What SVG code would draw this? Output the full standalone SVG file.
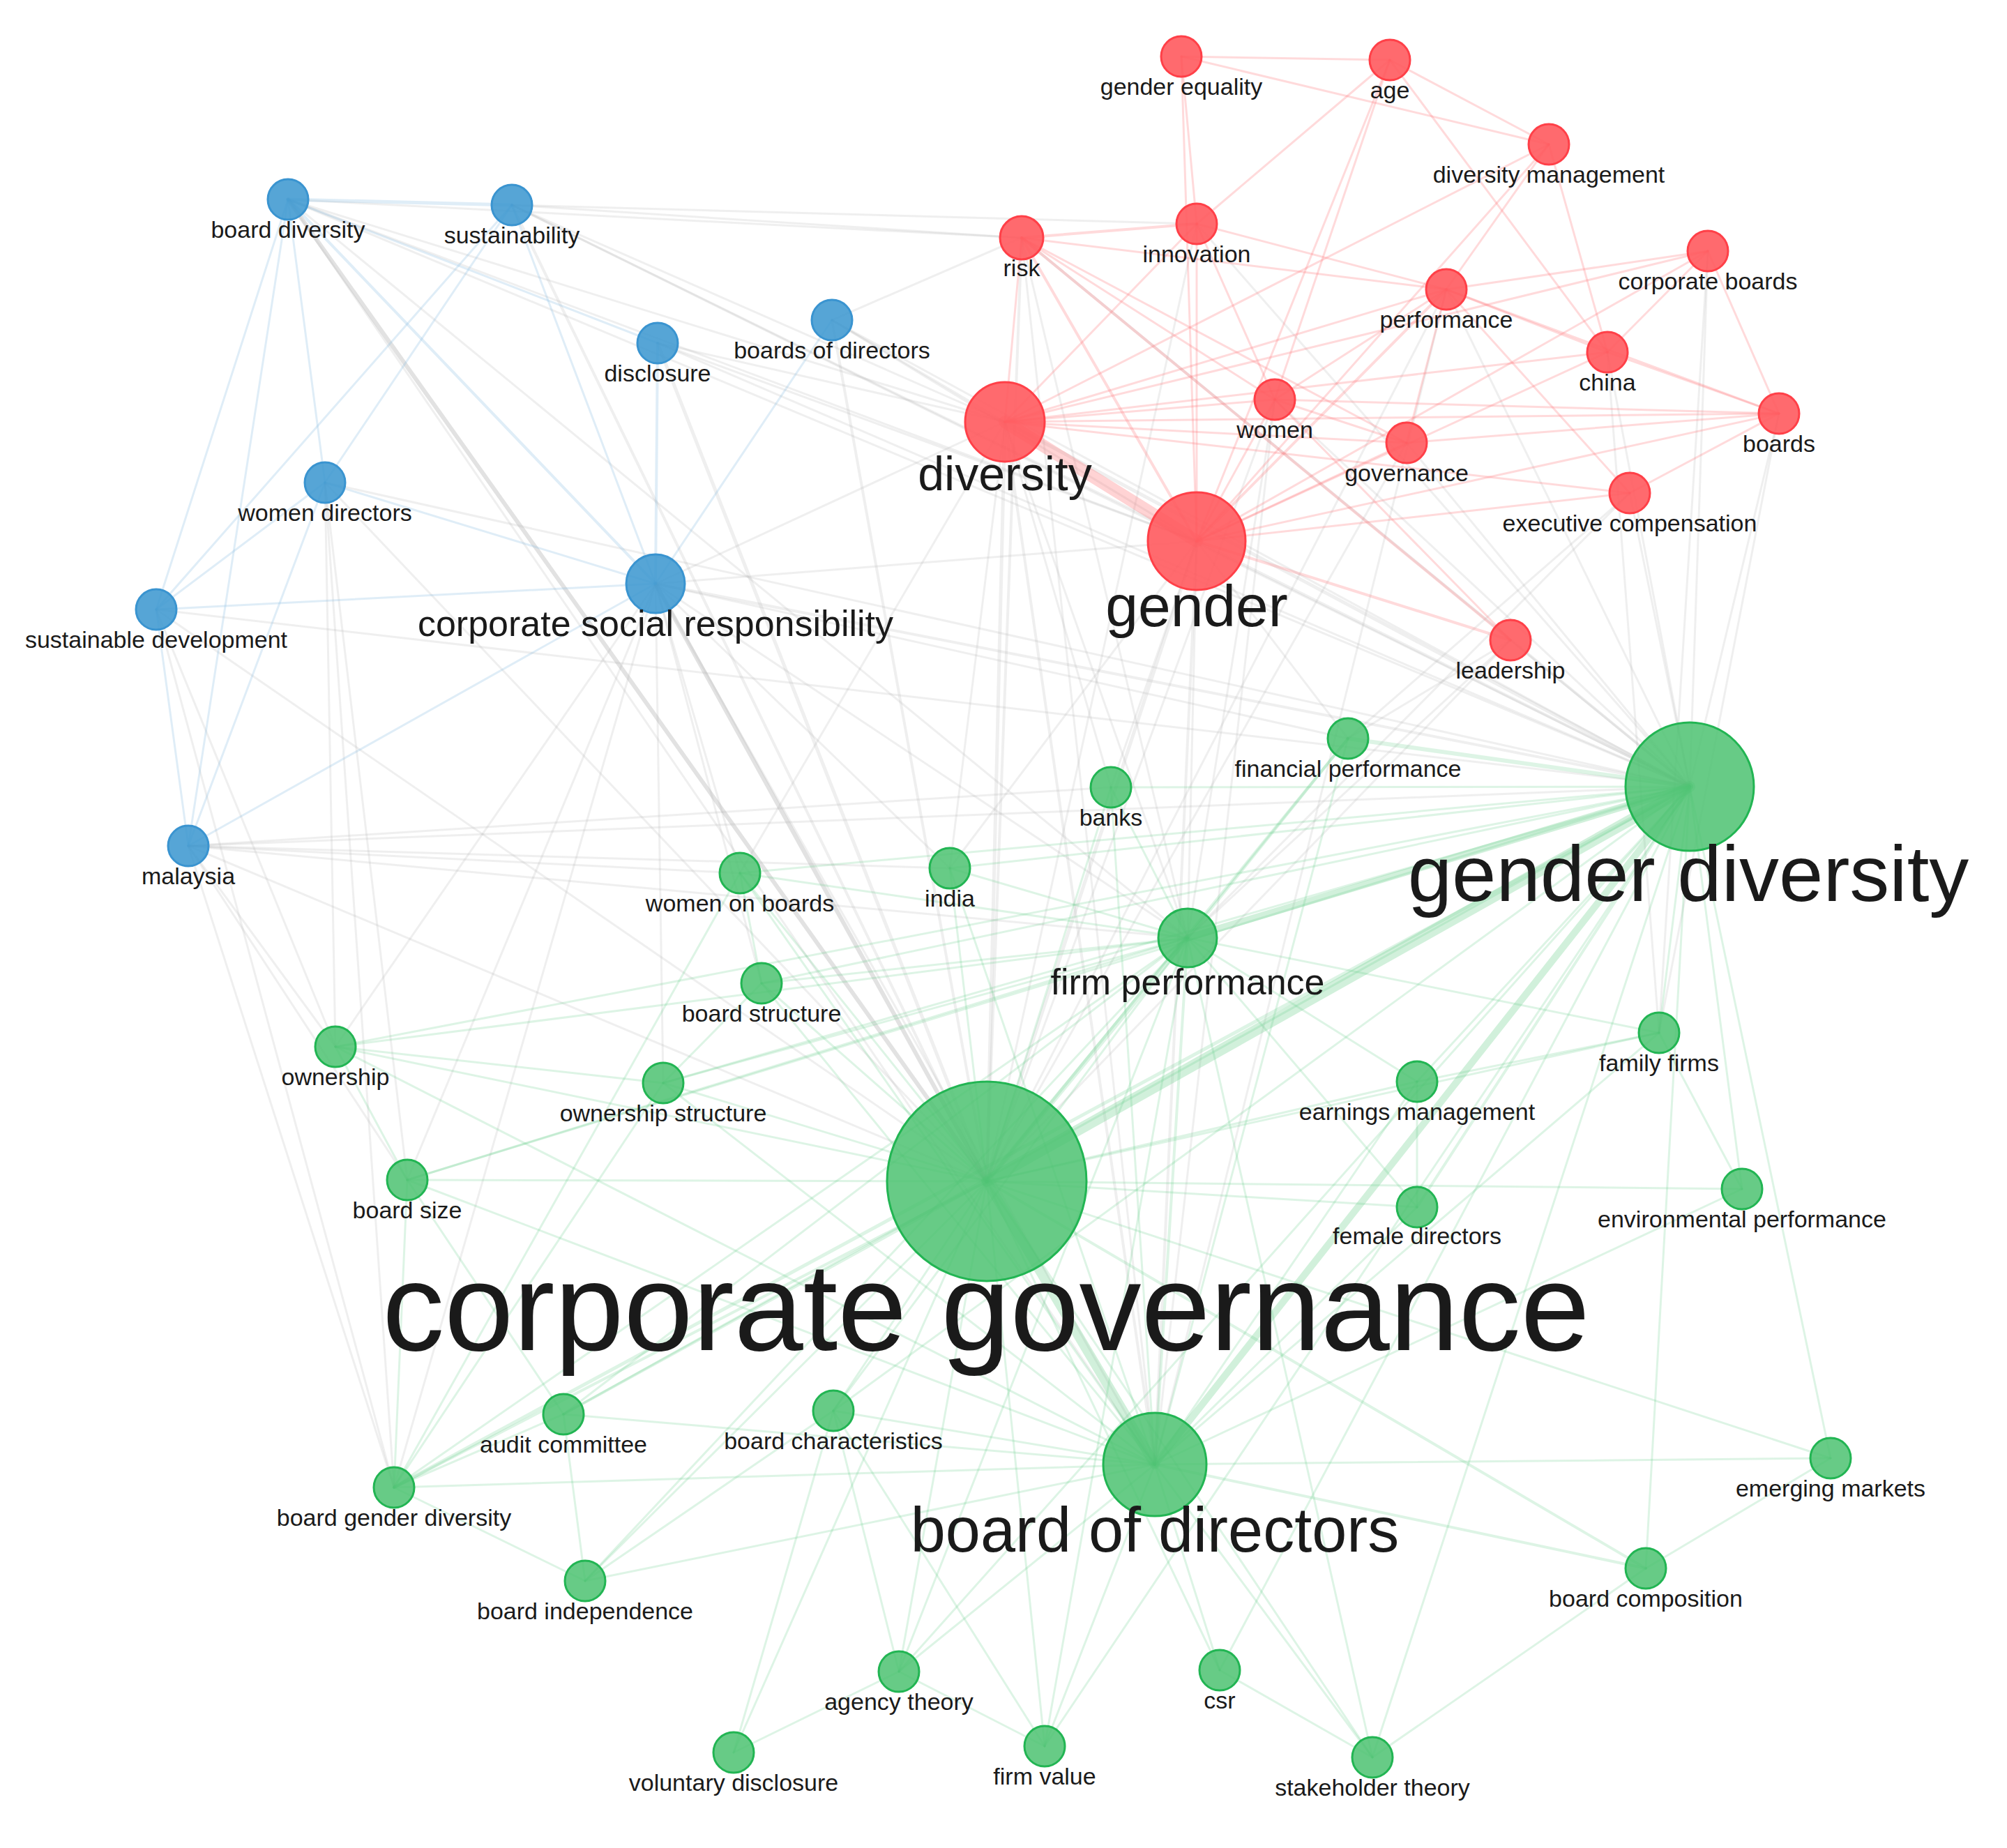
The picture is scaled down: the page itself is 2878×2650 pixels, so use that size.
<svg xmlns="http://www.w3.org/2000/svg" width="2878" height="2650" viewBox="0 0 2878 2650">
<style>
.bg{fill:#fff}
#edges path{fill:none;stroke-linecap:round}
.er path{stroke:#ff7a7d;stroke-opacity:.28;stroke-width:3}
.eb path{stroke:#8cc0e4;stroke-opacity:.28;stroke-width:3}
.eg path{stroke:#66cc88;stroke-opacity:.22;stroke-width:3}
.ex path{stroke:#b4b4b4;stroke-opacity:.22;stroke-width:3}
.nr circle{fill:#ff5a5e;fill-opacity:.9;stroke:#ff4048;stroke-width:3}
.nb circle{fill:#3f98d0;fill-opacity:.88;stroke:#3a94d0;stroke-width:3}
.ng circle{fill:#4cc271;fill-opacity:.85;stroke:#22b553;stroke-width:3}
text{font-family:"Liberation Sans",Arial,sans-serif;fill:#1a1a1a;text-anchor:middle}
.s{font-size:34px}
</style>
<rect class="bg" x="0" y="0" width="2878" height="2650"/>
<g id="edges">
<g class="ex">
<path d="M1415 1694L413 286" style="stroke-width:6;stroke-opacity:.38"/>
<path d="M1415 1694L734 294" style="stroke-width:4"/>
<path d="M1415 1694L943 492" style="stroke-width:5"/>
<path d="M1415 1694L940 837" style="stroke-width:6;stroke-opacity:.38"/>
<path d="M1415 1694L1193 459" style="stroke-width:4"/>
<path d="M1415 1694L466 692"/>
<path d="M1415 1694L224 874"/>
<path d="M1415 1694L270 1213"/>
<path d="M1415 1694L1441 605" style="stroke-width:5"/>
<path d="M1415 1694L1716 776" style="stroke-width:5"/>
<path d="M1415 1694L1465 341" style="stroke-width:4"/>
<path d="M1415 1694L1828 573"/>
<path d="M1415 1694L2074 415"/>
<path d="M1415 1694L2017 635"/>
<path d="M1415 1694L1716 321"/>
<path d="M1415 1694L2166 918"/>
<path d="M2423 1128L1441 605" style="stroke-width:5"/>
<path d="M2423 1128L1716 776" style="stroke-width:4"/>
<path d="M2423 1128L1465 341" style="stroke-width:4"/>
<path d="M2423 1128L1828 573"/>
<path d="M2423 1128L2074 415"/>
<path d="M2423 1128L2449 360"/>
<path d="M2423 1128L2305 505"/>
<path d="M2423 1128L2017 635"/>
<path d="M2423 1128L940 837" style="stroke-width:4"/>
<path d="M2423 1128L413 286"/>
<path d="M2423 1128L734 294"/>
<path d="M2423 1128L2166 918"/>
<path d="M2423 1128L2337 707"/>
<path d="M2423 1128L1193 459"/>
<path d="M2423 1128L466 692"/>
<path d="M2423 1128L270 1213"/>
<path d="M2423 1128L224 874"/>
<path d="M2423 1128L943 492"/>
<path d="M2423 1128L2551 593"/>
<path d="M2423 1128L1716 321"/>
<path d="M1656 2100L1441 605" style="stroke-width:4"/>
<path d="M1656 2100L1716 776" style="stroke-width:4"/>
<path d="M1656 2100L1465 341"/>
<path d="M1656 2100L940 837"/>
<path d="M1656 2100L1828 573"/>
<path d="M1656 2100L2074 415"/>
<path d="M1656 2100L413 286"/>
<path d="M1703 1345L1441 605"/>
<path d="M1703 1345L1716 776"/>
<path d="M1703 1345L940 837"/>
<path d="M1703 1345L1828 573"/>
<path d="M1703 1345L1465 341"/>
<path d="M1703 1345L413 286"/>
<path d="M940 837L1933 1059"/>
<path d="M940 837L1061 1252"/>
<path d="M940 837L951 1553"/>
<path d="M940 837L1092 1410"/>
<path d="M940 837L1362 1245"/>
<path d="M940 837L1716 776"/>
<path d="M940 837L1441 605"/>
<path d="M940 837L584 1692"/>
<path d="M940 837L481 1501"/>
<path d="M940 837L565 2133"/>
<path d="M270 1213L481 1501"/>
<path d="M270 1213L584 1692"/>
<path d="M270 1213L565 2133"/>
<path d="M270 1213L1061 1252"/>
<path d="M270 1213L1362 1245"/>
<path d="M270 1213L1593 1129"/>
<path d="M270 1213L1703 1345"/>
<path d="M224 874L481 1501"/>
<path d="M224 874L565 2133"/>
<path d="M466 692L584 1692"/>
<path d="M466 692L565 2133"/>
<path d="M466 692L481 1501"/>
<path d="M413 286L1441 605"/>
<path d="M734 294L1441 605"/>
<path d="M734 294L1716 776"/>
<path d="M413 286L1716 776"/>
<path d="M734 294L1465 341"/>
<path d="M413 286L1465 341"/>
<path d="M734 294L1716 321"/>
<path d="M1716 776L1933 1059"/>
<path d="M1716 776L1593 1129"/>
<path d="M1441 605L1593 1129"/>
<path d="M1441 605L1362 1245"/>
<path d="M1716 776L1362 1245"/>
<path d="M1441 605L1061 1252"/>
<path d="M2166 918L1933 1059"/>
<path d="M2166 918L1703 1345"/>
<path d="M1193 459L1441 605"/>
<path d="M1193 459L1716 776"/>
<path d="M943 492L1441 605"/>
<path d="M943 492L1716 776"/>
<path d="M1193 459L1465 341"/>
<path d="M2337 707L1933 1059"/>
<path d="M2337 707L1703 1345"/>
<path d="M2449 360L2379 1481"/>
<path d="M2305 505L2379 1481"/>
<path d="M2551 593L2379 1481"/>
</g>
<g class="er">
<path d="M1441 605L1716 776" style="stroke-width:18;stroke-opacity:.33"/>
<path d="M1716 776L1465 341" style="stroke-width:4"/>
<path d="M1716 776L1716 321"/>
<path d="M1716 776L2074 415" style="stroke-width:4"/>
<path d="M1716 776L1828 573"/>
<path d="M1716 776L2017 635"/>
<path d="M1716 776L2305 505"/>
<path d="M1716 776L2551 593"/>
<path d="M1716 776L2337 707"/>
<path d="M1716 776L2166 918" style="stroke-width:4"/>
<path d="M1716 776L2449 360"/>
<path d="M1716 776L2221 207"/>
<path d="M1716 776L1993 86"/>
<path d="M1716 776L1694 81"/>
<path d="M1441 605L1465 341"/>
<path d="M1441 605L1716 321"/>
<path d="M1441 605L2074 415"/>
<path d="M1441 605L1828 573"/>
<path d="M1441 605L2017 635"/>
<path d="M1441 605L2305 505"/>
<path d="M1441 605L2551 593"/>
<path d="M1441 605L2449 360"/>
<path d="M1441 605L2337 707"/>
<path d="M1441 605L2221 207"/>
<path d="M1465 341L1716 321" style="stroke-width:4"/>
<path d="M1465 341L2074 415"/>
<path d="M1465 341L2166 918" style="stroke-width:4"/>
<path d="M1465 341L1828 573"/>
<path d="M1465 341L2017 635"/>
<path d="M1716 321L2074 415"/>
<path d="M1716 321L1993 86"/>
<path d="M1716 321L1694 81"/>
<path d="M1716 321L1828 573"/>
<path d="M1694 81L1993 86"/>
<path d="M1694 81L2221 207"/>
<path d="M1993 86L2221 207"/>
<path d="M1993 86L1828 573"/>
<path d="M1993 86L2305 505"/>
<path d="M2074 415L2449 360"/>
<path d="M2074 415L2305 505"/>
<path d="M2074 415L2551 593"/>
<path d="M2074 415L1828 573"/>
<path d="M2074 415L2017 635"/>
<path d="M2074 415L2337 707"/>
<path d="M2449 360L2551 593"/>
<path d="M2449 360L2305 505"/>
<path d="M2305 505L2551 593"/>
<path d="M1828 573L2017 635"/>
<path d="M1828 573L2551 593"/>
<path d="M2017 635L2551 593"/>
<path d="M2337 707L2551 593"/>
<path d="M2221 207L2305 505"/>
<path d="M2221 207L2074 415"/>
<path d="M1828 573L2166 918"/>
</g>
<g class="eb">
<path d="M413 286L734 294" style="stroke-width:5"/>
<path d="M413 286L940 837" style="stroke-width:4"/>
<path d="M413 286L466 692"/>
<path d="M413 286L224 874"/>
<path d="M413 286L270 1213"/>
<path d="M734 294L940 837"/>
<path d="M734 294L224 874"/>
<path d="M943 492L940 837" style="stroke-width:4"/>
<path d="M1193 459L940 837"/>
<path d="M466 692L940 837"/>
<path d="M466 692L224 874"/>
<path d="M466 692L270 1213"/>
<path d="M224 874L940 837"/>
<path d="M270 1213L940 837"/>
<path d="M224 874L270 1213"/>
<path d="M734 294L466 692"/>
<path d="M413 286L943 492"/>
</g>
<g class="eg">
<path d="M1415 1694L2423 1128" style="stroke-width:16;stroke-opacity:.3"/>
<path d="M1415 1694L1656 2100" style="stroke-width:14;stroke-opacity:.3"/>
<path d="M1415 1694L1703 1345" style="stroke-width:7"/>
<path d="M2423 1128L1703 1345" style="stroke-width:10;stroke-opacity:.3"/>
<path d="M2423 1128L1656 2100" style="stroke-width:10;stroke-opacity:.3"/>
<path d="M2423 1128L1933 1059" style="stroke-width:6"/>
<path d="M1415 1694L1933 1059" style="stroke-width:4"/>
<path d="M1415 1694L1593 1129"/>
<path d="M1415 1694L1061 1252"/>
<path d="M1415 1694L1362 1245"/>
<path d="M1415 1694L1092 1410"/>
<path d="M1415 1694L481 1501"/>
<path d="M1415 1694L2379 1481"/>
<path d="M1415 1694L2032 1551"/>
<path d="M1415 1694L951 1553"/>
<path d="M1415 1694L584 1692"/>
<path d="M1415 1694L2498 1705"/>
<path d="M1415 1694L2032 1731"/>
<path d="M1415 1694L808 2028" style="stroke-width:4"/>
<path d="M1415 1694L1195 2023"/>
<path d="M1415 1694L2625 2091"/>
<path d="M1415 1694L565 2133" style="stroke-width:4"/>
<path d="M1415 1694L839 2267"/>
<path d="M1415 1694L2360 2249" style="stroke-width:4"/>
<path d="M1415 1694L1289 2397"/>
<path d="M1415 1694L1749 2395"/>
<path d="M1415 1694L1498 2504"/>
<path d="M1415 1694L1052 2513"/>
<path d="M1415 1694L1968 2520"/>
<path d="M2423 1128L1593 1129"/>
<path d="M2423 1128L1061 1252"/>
<path d="M2423 1128L1362 1245"/>
<path d="M2423 1128L1092 1410"/>
<path d="M2423 1128L2379 1481"/>
<path d="M2423 1128L2032 1551"/>
<path d="M2423 1128L951 1553"/>
<path d="M2423 1128L584 1692"/>
<path d="M2423 1128L2032 1731" style="stroke-width:4"/>
<path d="M2423 1128L808 2028"/>
<path d="M2423 1128L1195 2023"/>
<path d="M2423 1128L565 2133" style="stroke-width:5"/>
<path d="M2423 1128L2360 2249"/>
<path d="M2423 1128L1289 2397"/>
<path d="M2423 1128L1749 2395"/>
<path d="M2423 1128L1498 2504"/>
<path d="M2423 1128L1968 2520"/>
<path d="M2423 1128L2498 1705"/>
<path d="M2423 1128L2625 2091"/>
<path d="M2423 1128L481 1501"/>
<path d="M1656 2100L1703 1345" style="stroke-width:4"/>
<path d="M1656 2100L1933 1059"/>
<path d="M1656 2100L1593 1129"/>
<path d="M1656 2100L1362 1245"/>
<path d="M1656 2100L1061 1252"/>
<path d="M1656 2100L1092 1410"/>
<path d="M1656 2100L951 1553"/>
<path d="M1656 2100L2032 1731"/>
<path d="M1656 2100L2032 1551"/>
<path d="M1656 2100L808 2028"/>
<path d="M1656 2100L1195 2023"/>
<path d="M1656 2100L565 2133"/>
<path d="M1656 2100L839 2267"/>
<path d="M1656 2100L2360 2249" style="stroke-width:4"/>
<path d="M1656 2100L1289 2397"/>
<path d="M1656 2100L1749 2395"/>
<path d="M1656 2100L1498 2504"/>
<path d="M1656 2100L1968 2520"/>
<path d="M1656 2100L2625 2091"/>
<path d="M1656 2100L584 1692"/>
<path d="M1656 2100L481 1501"/>
<path d="M1656 2100L2379 1481"/>
<path d="M1656 2100L2498 1705"/>
<path d="M1703 1345L1933 1059" style="stroke-width:4"/>
<path d="M1703 1345L1593 1129"/>
<path d="M1703 1345L1362 1245"/>
<path d="M1703 1345L1061 1252"/>
<path d="M1703 1345L1092 1410"/>
<path d="M1703 1345L951 1553"/>
<path d="M1703 1345L2032 1551"/>
<path d="M1703 1345L2032 1731"/>
<path d="M1703 1345L584 1692"/>
<path d="M1703 1345L808 2028"/>
<path d="M1703 1345L1195 2023"/>
<path d="M1703 1345L565 2133"/>
<path d="M1703 1345L839 2267"/>
<path d="M1703 1345L1289 2397"/>
<path d="M1703 1345L1498 2504"/>
<path d="M1703 1345L1968 2520"/>
<path d="M1703 1345L2379 1481"/>
<path d="M1703 1345L481 1501"/>
<path d="M565 2133L808 2028"/>
<path d="M565 2133L584 1692"/>
<path d="M565 2133L839 2267"/>
<path d="M565 2133L951 1553"/>
<path d="M565 2133L1061 1252"/>
<path d="M808 2028L839 2267"/>
<path d="M808 2028L584 1692"/>
<path d="M839 2267L1195 2023"/>
<path d="M1052 2513L1289 2397"/>
<path d="M1052 2513L1195 2023"/>
<path d="M1289 2397L1195 2023"/>
<path d="M1289 2397L1498 2504"/>
<path d="M1498 2504L1195 2023"/>
<path d="M1968 2520L2360 2249"/>
<path d="M1968 2520L1749 2395"/>
<path d="M2498 1705L2379 1481"/>
<path d="M2625 2091L2360 2249"/>
<path d="M2032 1731L2032 1551"/>
<path d="M2032 1551L2379 1481"/>
<path d="M481 1501L584 1692"/>
<path d="M481 1501L951 1553"/>
<path d="M1092 1410L951 1553"/>
<path d="M1061 1252L1092 1410"/>
</g>
</g>
<g id="nodes">
<g id="n-gender-equality" class="nr"><circle cx="1694" cy="81" r="29"/><text class="s" x="1694" y="136">gender equality</text></g>
<g id="n-age" class="nr"><circle cx="1993" cy="86" r="29"/><text class="s" x="1993" y="141">age</text></g>
<g id="n-diversity-management" class="nr"><circle cx="2221" cy="207" r="29"/><text class="s" x="2221" y="262">diversity management</text></g>
<g id="n-innovation" class="nr"><circle cx="1716" cy="321" r="29"/><text class="s" x="1716" y="376">innovation</text></g>
<g id="n-risk" class="nr"><circle cx="1465" cy="341" r="31"/><text class="s" x="1465" y="396">risk</text></g>
<g id="n-corporate-boards" class="nr"><circle cx="2449" cy="360" r="29"/><text class="s" x="2449" y="415">corporate boards</text></g>
<g id="n-performance" class="nr"><circle cx="2074" cy="415" r="29"/><text class="s" x="2074" y="470">performance</text></g>
<g id="n-china" class="nr"><circle cx="2305" cy="505" r="29"/><text class="s" x="2305" y="560">china</text></g>
<g id="n-women" class="nr"><circle cx="1828" cy="573" r="29"/><text class="s" x="1828" y="628">women</text></g>
<g id="n-boards" class="nr"><circle cx="2551" cy="593" r="29"/><text class="s" x="2551" y="648">boards</text></g>
<g id="n-governance" class="nr"><circle cx="2017" cy="635" r="29"/><text class="s" x="2017" y="690">governance</text></g>
<g id="n-executive-compensation" class="nr"><circle cx="2337" cy="707" r="29"/><text class="s" x="2337" y="762">executive compensation</text></g>
<g id="n-leadership" class="nr"><circle cx="2166" cy="918" r="29"/><text class="s" x="2166" y="973">leadership</text></g>
<g id="n-board-diversity" class="nb"><circle cx="413" cy="286" r="29"/><text class="s" x="413" y="341">board diversity</text></g>
<g id="n-sustainability" class="nb"><circle cx="734" cy="294" r="29"/><text class="s" x="734" y="349">sustainability</text></g>
<g id="n-boards-of-directors" class="nb"><circle cx="1193" cy="459" r="29"/><text class="s" x="1193" y="514">boards of directors</text></g>
<g id="n-disclosure" class="nb"><circle cx="943" cy="492" r="29"/><text class="s" x="943" y="547">disclosure</text></g>
<g id="n-women-directors" class="nb"><circle cx="466" cy="692" r="29"/><text class="s" x="466" y="747">women directors</text></g>
<g id="n-sustainable-development" class="nb"><circle cx="224" cy="874" r="29"/><text class="s" x="224" y="929">sustainable development</text></g>
<g id="n-malaysia" class="nb"><circle cx="270" cy="1213" r="29"/><text class="s" x="270" y="1268">malaysia</text></g>
<g id="n-financial-performance" class="ng"><circle cx="1933" cy="1059" r="29"/><text class="s" x="1933" y="1114">financial performance</text></g>
<g id="n-banks" class="ng"><circle cx="1593" cy="1129" r="29"/><text class="s" x="1593" y="1184">banks</text></g>
<g id="n-women-on-boards" class="ng"><circle cx="1061" cy="1252" r="29"/><text class="s" x="1061" y="1307">women on boards</text></g>
<g id="n-india" class="ng"><circle cx="1362" cy="1245" r="29"/><text class="s" x="1362" y="1300">india</text></g>
<g id="n-board-structure" class="ng"><circle cx="1092" cy="1410" r="29"/><text class="s" x="1092" y="1465">board structure</text></g>
<g id="n-ownership" class="ng"><circle cx="481" cy="1501" r="29"/><text class="s" x="481" y="1556">ownership</text></g>
<g id="n-family-firms" class="ng"><circle cx="2379" cy="1481" r="29"/><text class="s" x="2379" y="1536">family firms</text></g>
<g id="n-earnings-management" class="ng"><circle cx="2032" cy="1551" r="29"/><text class="s" x="2032" y="1606">earnings management</text></g>
<g id="n-ownership-structure" class="ng"><circle cx="951" cy="1553" r="29"/><text class="s" x="951" y="1608">ownership structure</text></g>
<g id="n-board-size" class="ng"><circle cx="584" cy="1692" r="29"/><text class="s" x="584" y="1747">board size</text></g>
<g id="n-environmental-performance" class="ng"><circle cx="2498" cy="1705" r="29"/><text class="s" x="2498" y="1760">environmental performance</text></g>
<g id="n-female-directors" class="ng"><circle cx="2032" cy="1731" r="29"/><text class="s" x="2032" y="1784">female directors</text></g>
<g id="n-audit-committee" class="ng"><circle cx="808" cy="2028" r="29"/><text class="s" x="808" y="2083">audit committee</text></g>
<g id="n-board-characteristics" class="ng"><circle cx="1195" cy="2023" r="29"/><text class="s" x="1195" y="2078">board characteristics</text></g>
<g id="n-emerging-markets" class="ng"><circle cx="2625" cy="2091" r="29"/><text class="s" x="2625" y="2146">emerging markets</text></g>
<g id="n-board-gender-diversity" class="ng"><circle cx="565" cy="2133" r="29"/><text class="s" x="565" y="2188">board gender diversity</text></g>
<g id="n-board-independence" class="ng"><circle cx="839" cy="2267" r="29"/><text class="s" x="839" y="2322">board independence</text></g>
<g id="n-board-composition" class="ng"><circle cx="2360" cy="2249" r="29"/><text class="s" x="2360" y="2304">board composition</text></g>
<g id="n-agency-theory" class="ng"><circle cx="1289" cy="2397" r="29"/><text class="s" x="1289" y="2452">agency theory</text></g>
<g id="n-csr" class="ng"><circle cx="1749" cy="2395" r="29"/><text class="s" x="1749" y="2450">csr</text></g>
<g id="n-firm-value" class="ng"><circle cx="1498" cy="2504" r="29"/><text class="s" x="1498" y="2559">firm value</text></g>
<g id="n-voluntary-disclosure" class="ng"><circle cx="1052" cy="2513" r="29"/><text class="s" x="1052" y="2568">voluntary disclosure</text></g>
<g id="n-stakeholder-theory" class="ng"><circle cx="1968" cy="2520" r="29"/><text class="s" x="1968" y="2575">stakeholder theory</text></g>
<g id="n-corporate-social-responsibility" class="nb"><circle cx="940" cy="837" r="42"/><text x="940" y="912" style="font-size:52px">corporate social responsibility</text></g>
<g id="n-diversity" class="nr"><circle cx="1441" cy="605" r="57"/><text x="1441" y="703" style="font-size:68px">diversity</text></g>
<g id="n-gender" class="nr"><circle cx="1716" cy="776" r="70"/><text x="1716" y="898" style="font-size:84px">gender</text></g>
<g id="n-firm-performance" class="ng"><circle cx="1703" cy="1345" r="42"/><text x="1703" y="1426" style="font-size:52px">firm performance</text></g>
<g id="n-gender-diversity" class="ng"><circle cx="2423" cy="1128" r="92"/><text x="2421" y="1292" style="font-size:114px">gender diversity</text></g>
<g id="n-board-of-directors" class="ng"><circle cx="1656" cy="2100" r="74"/><text x="1656" y="2225" style="font-size:90px">board of directors</text></g>
<g id="n-corporate-governance" class="ng"><circle cx="1415" cy="1694" r="143"/><text x="1414" y="1936" style="font-size:178px">corporate governance</text></g>
</g>
</svg>
